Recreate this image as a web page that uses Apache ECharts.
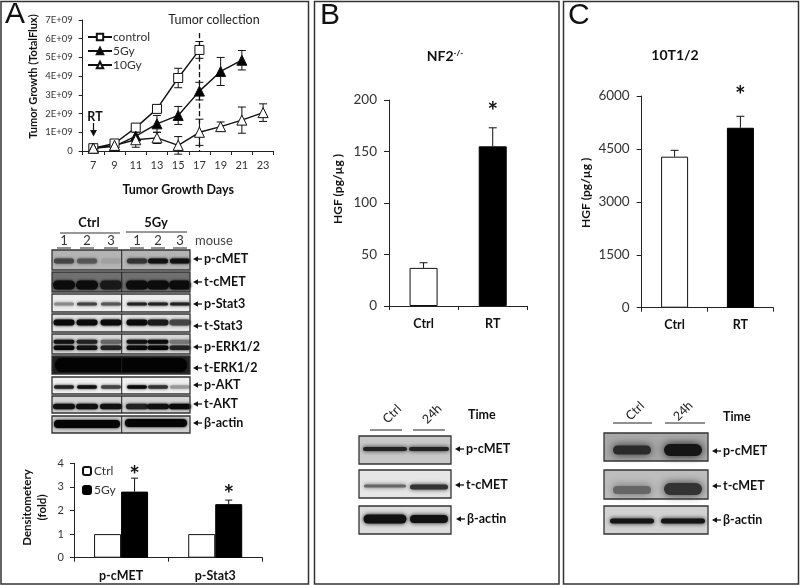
<!DOCTYPE html>
<html><head><meta charset="utf-8">
<style>html,body{margin:0;padding:0;background:#fff}#c{width:800px;height:585px}</style>
<script src="https://cdn.jsdelivr.net/npm/echarts@6/dist/echarts.min.js"></script>
</head><body><div id="c"></div>
<script>
// ---- data ----
const days = ['7','9','11','13','15','17','19','21','23'];
const control = [0.15e9,0.4e9,1.25e9,2.25e9,3.9e9,5.4e9,null,null,null];
const controlErr = [0.05e9,0.1e9,0.15e9,0.2e9,0.52e9,0.45e9,null,null,null];
const gy5 = [0.15e9,0.25e9,0.8e9,1.45e9,1.9e9,3.2e9,4.25e9,4.85e9,null];
const gy5Err = [0.05e9,0.1e9,0.4e9,0.45e9,0.48e9,0.47e9,0.75e9,0.52e9,null];
const gy10 = [0.15e9,0.3e9,0.6e9,0.7e9,0.3e9,1.0e9,1.3e9,1.65e9,2.05e9];
const gy10Err = [0.05e9,0.1e9,0.4e9,0.3e9,0.47e9,0.7e9,0.25e9,0.7e9,0.47e9];
const densCats = ['p-cMET','p-Stat3'];
const densCtrl = [1,1];
const densGy = [2.8,2.27];
const densErr = [0.57,0.17];
const densStar = [3.68,2.88];
const hgfCats = ['Ctrl','RT'];
const nf2 = [37,155];
const nf2Err = [5,18];
const nf2Star = [null,193];
const t10 = [4280,5100];
const t10Err = [180,325];
const t10Star = [null,6150];

// ---- style ----
const FONT='Lato', INK='#222';
const chart = echarts.init(document.getElementById('c'),null,{renderer:'canvas'});

function errSeries(xi,yi,cats,vals,errs,opts){
  opts=opts||{};
  const off=opts.off||0, cap=opts.cap||4, up=!!opts.up;
  const data=cats.map((c,i)=>vals[i]==null?null:[c,up?vals[i]:vals[i]-errs[i],vals[i]+errs[i]]).filter(Boolean);
  return {type:'custom',xAxisIndex:xi,yAxisIndex:yi,silent:true,z:opts.z||3,clip:false,data,
    encode:{x:0,y:[1,2]},
    renderItem(p,api){
      const lo=api.coord([api.value(0),api.value(1)]), hi=api.coord([api.value(0),api.value(2)]);
      const x=lo[0]+off, st={stroke:opts.color||'#111',lineWidth:opts.lw||1};
      const ch=[{type:'line',shape:{x1:x,y1:lo[1],x2:x,y2:hi[1]},style:st},
                {type:'line',shape:{x1:x-cap,y1:hi[1],x2:x+cap,y2:hi[1]},style:st}];
      if(!up) ch.push({type:'line',shape:{x1:x-cap,y1:lo[1],x2:x+cap,y2:lo[1]},style:st});
      return {type:'group',children:ch};
    }};
}
function starSeries(xi,yi,cats,levels,off){
  const data=cats.map((c,i)=>levels[i]==null?null:[c,levels[i]]).filter(Boolean);
  return {type:'custom',xAxisIndex:xi,yAxisIndex:yi,silent:true,clip:false,z:4,data,
    encode:{x:0,y:1},
    renderItem(p,api){
      const c=api.coord([api.value(0),api.value(1)]);
      return {type:'text',style:{text:'*',x:c[0]+(off||0),y:c[1]+5,align:'center',verticalAlign:'middle',
        font:'bold 25px '+FONT,fill:'#111'}};
    }};
}
function yAxis(gi,o){
  return Object.assign({type:'value',gridIndex:gi,splitLine:{show:false},
    axisLine:{show:true,lineStyle:{color:INK,width:1}},
    axisTick:{show:true,length:5,lineStyle:{color:INK}},
    axisLabel:{color:'#333',fontFamily:FONT,fontSize:13.5,margin:12,formatter:v=>String(v)},
    nameLocation:'middle',nameRotate:90,
    nameTextStyle:{color:'#111',fontFamily:FONT,fontWeight:'bold',fontSize:13.5}},o);
}
function xAxis(gi,cats,o){
  return Object.assign({type:'category',gridIndex:gi,data:cats,boundaryGap:true,
    axisLine:{show:true,lineStyle:{color:INK,width:1}},
    axisTick:{show:true,alignWithLabel:false,length:4,inside:false,lineStyle:{color:INK}},
    axisLabel:{color:'#111',fontFamily:FONT,fontWeight:'bold',fontSize:12.5,margin:11,interval:0}},o);
}
const lineCommon=(name,data,symbol,fill,size)=>({name,type:'line',xAxisIndex:0,yAxisIndex:0,data,
  connectNulls:false,symbol,symbolSize:size,showAllSymbol:true,z:5,
  lineStyle:{color:'#111',width:1.4},
  itemStyle:{color:fill,borderColor:'#111',borderWidth:1}});

// ---- decorative layout helpers: panels, blots ----
const g=[];
function frame(x,y,w,h){g.push({type:'rect',silent:true,z:1,shape:{x,y,width:w,height:h},style:{fill:'none',stroke:'#333',lineWidth:1.5}});}
function text(t,x,y,o){o=o||{};g.push({type:'text',silent:true,z:10,rotation:o.rot||0,x,y,style:{text:t,x:0,y:0,
  align:o.align||'left',verticalAlign:'middle',fill:o.fill||'#111',
  font:(o.weight||'normal')+' '+(o.size||12)+'px '+(o.family||FONT)}});}
function hline(x1,x2,y,col,lw){g.push({type:'line',silent:true,z:10,shape:{x1,y1:y,x2,y2:y},style:{stroke:col||'#222',lineWidth:lw||1}});}
function band(cx,cy,w,h,col,blur){g.push({type:'rect',silent:true,z:8,shape:{x:cx-w/2,y:cy-h/2,width:w,height:h,r:h/2},
  style:{fill:col,shadowBlur:blur==null?3:blur,shadowColor:col}});}
function blot(x,y,w,h,bg,bands,div){
  g.push({type:'rect',silent:true,z:7,shape:{x,y,width:w,height:h},style:{fill:bg}});
  bands.forEach(b=>band(b[0],b[1],b[2],b[3],b[4],b[5]));
  g.push({type:'rect',silent:true,z:9,shape:{x,y,width:w,height:h},style:{fill:'none',stroke:'#333',lineWidth:1.3}});
  if(div) g.push({type:'line',silent:true,z:9,shape:{x1:div,y1:y,x2:div,y2:y+h},style:{stroke:'#222',lineWidth:1}});
}
function arrowLabel(x,y,label,size){
  hline(x+3,x+9,y,'#111',1.3);
  g.push({type:'polygon',silent:true,z:10,shape:{points:[[x,y],[x+5,y-2.8],[x+5,y+2.8]]},style:{fill:'#111'}});
  text(label,x+11,y,{weight:'bold',size:size||12.5});
}
function row(lanes,cy,w,h,cols,blur){return lanes.map((x,i)=>[x,cy,w,h,cols[i],blur]);}

frame(1,1.5,307.5,582.5); frame(314.5,1.5,244.5,582.5); frame(563.5,1.5,235,582.5);
text('A',5,15,{size:30,family:'Liberation Sans'});
text('B',320,16,{size:30,family:'Liberation Sans'});
text('C',568,16,{size:30,family:'Liberation Sans'});

// Panel A annotations
text('Tumor collection',214,20,{align:'center',size:12.5,fill:'#222'});
text('RT',95,117,{align:'center',weight:'bold',size:12.5});
g.push({type:'line',silent:true,z:10,shape:{x1:93.5,y1:123,x2:93.5,y2:131},style:{stroke:'#111',lineWidth:1.2}});
g.push({type:'polygon',silent:true,z:10,shape:{points:[[93.5,136.5],[90,130],[97,130]]},style:{fill:'#111'}});

// Panel A blots
const L=[64,87,111,137,158,180];
text('Ctrl',89,223,{align:'center',weight:'bold',size:13});
text('5Gy',156,223,{align:'center',weight:'bold',size:13});
hline(60,120,233,'#333'); hline(126,187,232,'#333');
L.forEach((x,i)=>{text(String(i%3+1),x,241,{align:'center',size:13,fill:'#333'});hline(x-7,x+7,248,'#222',1);});
text('mouse',195,241,{size:13,fill:'#444'});
blot(52,250,138,20,'#b4b4b4',row(L,261,20,5,['#444','#555','#a0a0a0','#333','#111','#111']),121.7);
blot(52,272,138,20,'#707070',row(L,285,22,9,['#0c0c0c','#0c0c0c','#181818','#0c0c0c','#0c0c0c','#0c0c0c']),121.7);
blot(52,294,138,18,'#ececec',row(L,304,20,3,['#8a8a8a','#444','#555','#222','#222','#222']),121.7);
blot(52,314,138,18,'#e2e2e2',row(L,322.5,21,6,['#0a0a0a','#0a0a0a','#0a0a0a','#0a0a0a','#1a1a1a','#444']),121.7);
blot(52,334,138,20,'#d8d8d8',row(L,341.7,21,4,['#111','#222','#666','#111','#0a0a0a','#777'])
   .concat(row(L,347.7,21,4.5,['#0a0a0a','#111','#222','#0a0a0a','#050505','#222'])),121.7);
blot(52,356,138,18,'#222',[[121,365,132,14,'#030303',2]],121.7);
blot(52,377,138,17,'#f0f0f0',row(L,387,20,3.5,['#222','#111','#444','#0a0a0a','#333','#999']),121.7);
blot(52,396,138,17,'#d5d5d5',row(L,406.5,22,5.5,['#111','#111','#111','#222','#111','#0a0a0a']),121.7);
blot(52,416,138,17,'#cfcfcf',[[87,424,66,8,'#050505',3],[156,423,62,8,'#050505',3]],121.7);
[['p-cMET',259],['t-cMET',282],['p-Stat3',304],['t-Stat3',326],['p-ERK1/2',347],['t-ERK1/2',368],['p-AKT',385],['t-AKT',404],['β-actin',423]]
 .forEach(r=>arrowLabel(193,r[1],r[0],12.5));

// Panel B blots
[[392,'Ctrl'],[432,'24h']].forEach(r=>text(r[1],r[0],414,{align:'center',size:12.5,rot:Math.PI/4,fill:'#222'}));
hline(370,402,430); hline(413,445,430);
text('Time',468,415,{weight:'bold',size:12.5});
blot(359,436,92,28,'#c8c8c8',[[385,449,44,4,'#222',4],[429,449,40,4,'#222',4]]);
blot(359,470,92,28,'#e6e6e6',[[385,486,42,3,'#666',4],[429,487,38,5,'#333',4]]);
blot(359,506,92,28,'#dcdcdc',[[385,519,43,9,'#111',4],[429,519,38,8,'#111',4]]);
arrowLabel(455,449,'p-cMET'); arrowLabel(455,485,'t-cMET'); arrowLabel(456,519,'β-actin');

// Panel C blots
[[635,'Ctrl'],[683,'24h']].forEach(r=>text(r[1],r[0],411,{align:'center',size:12.5,rot:Math.PI/4,fill:'#222'}));
hline(613,652,423); hline(665,705,423);
text('Time',723,417,{weight:'bold',size:12.5});
blot(604,433,104,28,'#a8a8a8',[[632,450,38,9,'#2a2a2a',9],[683,450,38,12,'#151515',9]]);
blot(604,470,104,29,'#bdbdbd',[[632,490,38,8,'#666',9],[683,489,38,12,'#333',9]]);
blot(604,506,104,28,'#d2d2d2',[[632,521,44,5,'#151515',4],[683,521,44,5,'#151515',4]]);
arrowLabel(712,451,'p-cMET'); arrowLabel(712,486,'t-cMET'); arrowLabel(712,520,'β-actin');

const fold=v=>v===0?'0':(v/1e9)+'E+09';
chart.setOption({
  animation:false,backgroundColor:'#fff',
  textStyle:{fontFamily:FONT},
  title:[
    {text:'{b|NF2}{s|-/-}',left:440,top:44,textAlign:'center',textStyle:{rich:{b:{fontFamily:FONT,fontWeight:'bold',fontSize:14,color:'#111'},s:{fontFamily:FONT,fontSize:8,color:'#111',verticalAlign:'top',padding:[0,0,6,0]}}}},
    {text:'10T1/2',left:670,top:43,textAlign:'center',textStyle:{fontFamily:FONT,fontWeight:'bold',fontSize:14,color:'#111'}}
  ],
  legend:[
    {data:['control','5Gy','10Gy'],orient:'vertical',left:87,top:31,padding:0,itemWidth:24,itemHeight:8,itemGap:2,
      textStyle:{fontFamily:FONT,fontSize:12,color:'#333',padding:[0,0,0,-4]},selectedMode:false},
    {data:['Ctrl','5Gy '],orient:'vertical',left:82,top:465,padding:0,itemWidth:8,itemHeight:8,itemGap:7,
      textStyle:{fontFamily:FONT,fontSize:12,color:'#333',padding:[0,0,0,-2]},selectedMode:false}
  ],
  grid:[
    {left:82.7,top:20,width:191,height:131},
    {left:74,top:463.3,width:188.3,height:94.4},
    {left:389,top:100,width:138.3,height:206},
    {left:641.7,top:96,width:131.6,height:211.7}
  ],
  xAxis:[
    xAxis(0,days,{name:'Tumor Growth Days',nameLocation:'middle',nameGap:32,
      nameTextStyle:{color:'#111',fontFamily:FONT,fontWeight:'bold',fontSize:12.5},
      axisLabel:{color:'#333',fontFamily:FONT,fontSize:11,margin:9,interval:0}}),
    xAxis(1,densCats,{axisLabel:{color:'#111',fontFamily:FONT,fontWeight:'bold',fontSize:12.5,margin:12,interval:0}}),
    xAxis(2,hgfCats),
    xAxis(3,hgfCats)
  ],
  yAxis:[
    yAxis(0,{min:0,max:7e9,interval:1e9,name:'Tumor Growth (TotalFlux)',nameGap:44,
      axisTick:{show:true,length:4,lineStyle:{color:INK}},
      axisLabel:{color:'#333',fontFamily:FONT,fontSize:9.5,margin:10,formatter:fold},
      nameTextStyle:{color:'#111',fontFamily:FONT,fontWeight:'bold',fontSize:11,padding:[0,0,0,18]}}),
    yAxis(1,{min:0,max:4,interval:1,name:'Densitometery\n(fold)',nameGap:24,
      axisTick:{show:true,length:4,lineStyle:{color:INK}},
      axisLabel:{color:'#333',fontFamily:FONT,fontSize:11,margin:10},
      nameTextStyle:{color:'#111',fontFamily:FONT,fontWeight:'bold',fontSize:11.5,lineHeight:15,padding:[0,0,0,6]}}),
    yAxis(2,{min:0,max:200,interval:50,name:'HGF (pg/µg )',nameGap:45,
      nameTextStyle:{color:'#111',fontFamily:FONT,fontWeight:'bold',fontSize:12,padding:[0,0,0,28]}}),
    yAxis(3,{min:0,max:6000,interval:1500,name:'HGF (pg/µg )',nameGap:50,
      nameTextStyle:{color:'#111',fontFamily:FONT,fontWeight:'bold',fontSize:12,padding:[0,0,0,18]}})
  ],
  graphic:{elements:g},
  series:[
    lineCommon('control',control,'rect','#fff',9),
    lineCommon('5Gy',gy5,'triangle','#000',10),
    lineCommon('10Gy',gy10,'triangle','#fff',10),
    errSeries(0,0,days,control,controlErr,{cap:4}),
    errSeries(0,0,days,gy5,gy5Err,{cap:4}),
    errSeries(0,0,days,gy10,gy10Err,{cap:4}),
    {type:'line',xAxisIndex:0,yAxisIndex:0,data:[],symbol:'none',silent:true,
      markLine:{silent:true,symbol:'none',label:{show:false},
        lineStyle:{color:'#111',type:'dashed',width:1.3},
        data:[[{xAxis:'17',yAxis:6.3e9},{xAxis:'17',yAxis:0}]]}},
    {name:'Ctrl',type:'bar',xAxisIndex:1,yAxisIndex:1,data:densCtrl,barWidth:27,barGap:'0%',
      itemStyle:{color:'#fff',borderColor:'#111',borderWidth:1}},
    {name:'5Gy ',type:'bar',xAxisIndex:1,yAxisIndex:1,data:densGy,barWidth:27,barGap:'0%',
      itemStyle:{color:'#000',borderColor:'#000',borderWidth:1}},
    errSeries(1,1,densCats,densGy,densErr,{up:true,off:13.5,cap:3.5,z:1}),
    starSeries(1,1,densCats,densStar,13.5),
    {type:'bar',xAxisIndex:2,yAxisIndex:2,barWidth:28,
      data:[{value:nf2[0],itemStyle:{color:'#fff',borderColor:'#111',borderWidth:1}},
            {value:nf2[1],itemStyle:{color:'#000',borderColor:'#000',borderWidth:1}}]},
    errSeries(2,2,hgfCats,nf2,nf2Err,{up:true,cap:4,z:1}),
    starSeries(2,2,hgfCats,nf2Star),
    {type:'bar',xAxisIndex:3,yAxisIndex:3,barWidth:27,
      data:[{value:t10[0],itemStyle:{color:'#fff',borderColor:'#111',borderWidth:1}},
            {value:t10[1],itemStyle:{color:'#000',borderColor:'#000',borderWidth:1}}]},
    errSeries(3,3,hgfCats,t10,t10Err,{up:true,cap:4,z:1}),
    starSeries(3,3,hgfCats,t10Star)
  ]
});
</script></body></html>
